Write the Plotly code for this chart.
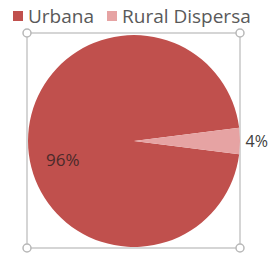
import plotly.graph_objects as go

labels = ["Urbana", "Rural Dispersa"]
values = [96, 4]
colors = ["#C0504D", "#E6A3A3"]

W, H = 276, 259

def px(x):
    return x / W

def py(y):
    return 1 - y / H

total = sum(values)
pct = [f"{round(v / total * 100)}%" for v in values]

fig = go.Figure(go.Pie(
    labels=labels,
    values=values,
    marker=dict(colors=colors),
    sort=False,
    direction="clockwise",
    rotation=97.2,
    text=pct,
    textinfo="text",
    textposition=["none", "outside"],
    textfont=dict(family="Open Sans", size=16, color="#404040"),
    domain=dict(x=[px(28), px(240)], y=[py(247), py(35)]),
    showlegend=False,
))

# selection frame
shapes = [dict(type="rect", xref="paper", yref="paper",
               x0=px(27), x1=px(240), y0=py(248), y1=py(33),
               line=dict(color="#C8C8C8", width=1.5), layer="below")]
for cx, cy in [(27, 33), (240, 33), (27, 248), (240, 248)]:
    shapes.append(dict(type="circle", xref="paper", yref="paper",
                       x0=px(cx - 4), x1=px(cx + 4), y0=py(cy + 4), y1=py(cy - 4),
                       line=dict(color="#B8B8B8", width=1.5), fillcolor="white"))

# legend: swatch + label
swatch_x = [13, 107]
text_x = [26, 120]
annotations = []
for l, c, sx, tx in zip(labels, colors, swatch_x, text_x):
    shapes.append(dict(type="rect", xref="paper", yref="paper",
                       x0=px(sx), x1=px(sx + 10), y0=py(21), y1=py(11),
                       fillcolor=c, line=dict(width=0)))
    annotations.append(dict(text=l, xref="paper", yref="paper",
                            x=px(tx), y=py(16), xanchor="left", yanchor="middle",
                            showarrow=False,
                            font=dict(family="Open Sans", size=19, color="#595959")))

annotations.append(
    dict(text=pct[0], xref="paper", yref="paper", x=px(63), y=py(159),
         xanchor="center", yanchor="middle", showarrow=False,
         font=dict(family="Open Sans", size=17, color="#4A2A2A")))

fig.update_layout(
    width=W, height=H,
    margin=dict(l=0, r=0, t=0, b=0),
    paper_bgcolor="white",
    shapes=shapes,
    annotations=annotations,
)

fig.write_html("out.html", config={"displayModeBar": False},
               post_script="document.body.style.margin='0';document.body.style.overflow='hidden';")
